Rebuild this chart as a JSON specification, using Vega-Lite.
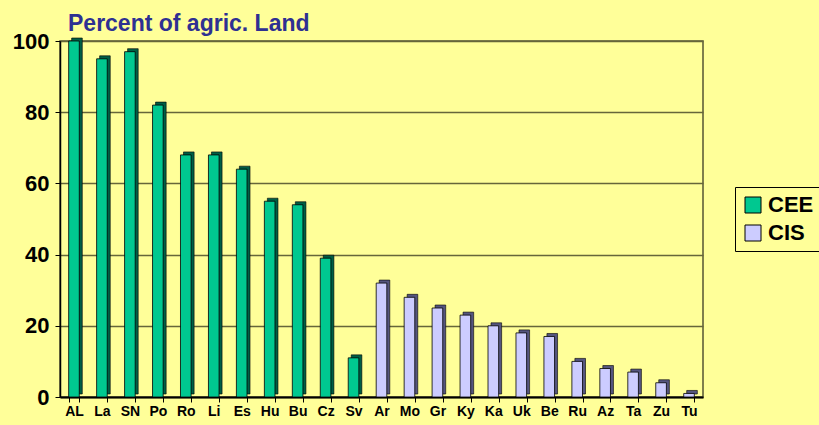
{
  "$schema": "https://vega.github.io/schema/vega-lite/v6.json",
  "width": 643,
  "height": 356,
  "autosize": "none",
  "padding": {"left": 60, "top": 41, "right": 116, "bottom": 28},
  "background": "#FFFF99",
  "title": {"text": "Percent of agric. Land", "anchor": "start", "frame": "group", "dx": 8, "dy": 17, "offset": 11, "font": "Liberation Sans", "fontSize": 23, "fontWeight": "bold", "color": "#2E3092"},
  "config": {"view": {"stroke": "#555533", "strokeWidth": 1.5}, "font": "Liberation Sans"},
  "data": {"values": [
    {"c": "AL", "v": 100, "g": "CEE"},
    {"c": "La", "v": 95, "g": "CEE"},
    {"c": "SN", "v": 97, "g": "CEE"},
    {"c": "Po", "v": 82, "g": "CEE"},
    {"c": "Ro", "v": 68, "g": "CEE"},
    {"c": "Li", "v": 68, "g": "CEE"},
    {"c": "Es", "v": 64, "g": "CEE"},
    {"c": "Hu", "v": 55, "g": "CEE"},
    {"c": "Bu", "v": 54, "g": "CEE"},
    {"c": "Cz", "v": 39, "g": "CEE"},
    {"c": "Sv", "v": 11, "g": "CEE"},
    {"c": "Ar", "v": 32, "g": "CIS"},
    {"c": "Mo", "v": 28, "g": "CIS"},
    {"c": "Gr", "v": 25, "g": "CIS"},
    {"c": "Ky", "v": 23, "g": "CIS"},
    {"c": "Ka", "v": 20, "g": "CIS"},
    {"c": "Uk", "v": 18, "g": "CIS"},
    {"c": "Be", "v": 17, "g": "CIS"},
    {"c": "Ru", "v": 10, "g": "CIS"},
    {"c": "Az", "v": 8, "g": "CIS"},
    {"c": "Ta", "v": 7, "g": "CIS"},
    {"c": "Zu", "v": 4, "g": "CIS"},
    {"c": "Tu", "v": 1, "g": "CIS"}
  ]},
  "encoding": {
    "x": {"field": "c", "type": "nominal", "sort": null,
      "scale": {"paddingInner": 0.62, "paddingOuter": 0.31},
      "axis": {"title": null, "labelAngle": 0, "labelFont": "Liberation Sans", "labelFontSize": 14, "labelFontWeight": "bold", "labelColor": "#000000", "domainColor": "#000000", "domainWidth": 2, "tickColor": "#000000", "tickBand": "extent", "tickSize": 5, "labelPadding": 2}},
    "y": {"field": "v", "type": "quantitative",
      "scale": {"domain": [0, 100], "nice": false},
      "axis": {"title": null, "values": [0, 20, 40, 60, 80, 100], "labelFont": "Liberation Sans", "labelFontSize": 22, "labelFontWeight": "bold", "labelColor": "#000000", "domainColor": "#000000", "domainWidth": 1.5, "tickColor": "#000000", "tickSize": 5, "gridColor": "#66663A", "gridWidth": 1.4, "labelPadding": 6}}
  },
  "layer": [
    {"mark": {"type": "bar", "xOffset": 3, "yOffset": -3, "stroke": "#000000", "strokeWidth": 0.6},
      "encoding": {"color": {"field": "g", "type": "nominal", "scale": {"domain": ["CEE", "CIS"], "range": ["#005E45", "#55557F"]}, "legend": null}}},
    {"mark": {"type": "bar", "stroke": "#000000", "strokeWidth": 0.8},
      "encoding": {"color": {"field": "g", "type": "nominal", "scale": {"domain": ["CEE", "CIS"], "range": ["#00C890", "#CCCCFF"]},
        "legend": {"title": null, "orient": "none", "legendX": 675, "legendY": 146, "symbolType": "square", "symbolSize": 256, "symbolStrokeColor": "#000000", "symbolStrokeWidth": 1, "labelFont": "Liberation Sans", "labelFontSize": 22, "labelFontWeight": "bold", "labelColor": "#000000", "strokeColor": "#000000", "padding": 7, "rowPadding": 6, "labelOffset": 4, "fillColor": "#FFFF99"}}}}
  ],
  "resolve": {"scale": {"color": "independent"}}
}
